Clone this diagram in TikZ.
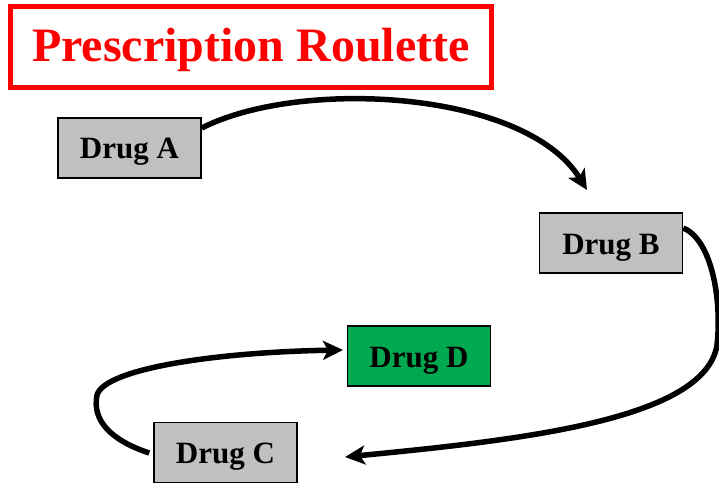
\documentclass[tikz,border=0pt]{standalone}
\usepackage{fontspec}
\setmainfont{Liberation Serif}
\usetikzlibrary{arrows.meta}
\definecolor{boxgray}{RGB}{192,192,192}
\definecolor{boxgreen}{RGB}{0,168,80}
\definecolor{titlered}{RGB}{255,0,0}
\tikzset{
  drugbox/.style={draw=black, line width=1.5pt, fill=boxgray, minimum width=143pt, minimum height=60pt, inner sep=0pt, text height=23pt, text depth=1pt, font=\fontsize{31}{31}\selectfont\bfseries},
  flow/.style={line width=5.5pt, -{Stealth[length=20pt,width=19pt,inset=5pt]}}
}
\begin{document}
\begin{tikzpicture}[x=1pt,y=-1pt]
\useasboundingbox (0,0) rectangle (719,486);
\node[draw=titlered, line width=5pt, minimum width=481pt, minimum height=81pt, inner sep=0pt, text height=38pt, text depth=8pt, text=titlered, font=\fontsize{48}{48}\selectfont\bfseries] (title) at (251,47) {Prescription Roulette};
\node[drugbox] (A) at (129.5,148) {Drug A};
\node[drugbox] (B) at (611,243) {Drug B};
\node[drugbox, fill=boxgreen] (D) at (419,356) {Drug D};
\node[drugbox] (C) at (225.5,452.5) {Drug C};
\coordinate (tipB) at (587,190);
\coordinate (tipC) at (345,457);
\coordinate (tipD) at (343,350);
\draw[flow] (A.east |- 0,128) .. controls (300,78) and (525,90) .. (tipB);
\draw[flow] (B.east |- 0,228) .. controls (712,240) and (722,300) .. (717,345) .. controls (705,420) and (520,440) .. (tipC);
\draw[flow] (C.west |- 0,453) ++(-4,0) .. controls (110,440) and (92,420) .. (97,395) .. controls (105,368) and (220,352) .. (tipD);
\end{tikzpicture}
\end{document}
